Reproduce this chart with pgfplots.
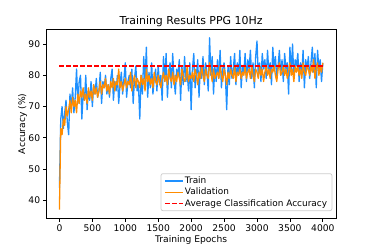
\documentclass[border=0pt]{standalone}
\usepackage{fontspec}
\setmainfont{DejaVu Sans}
\usepackage{pgfplots}
\pgfplotsset{compat=1.18}
\usepackage{pgfplotstable}
\definecolor{mplblue}{RGB}{30,144,255}
\definecolor{mplorange}{RGB}{255,140,0}
\definecolor{mplred}{RGB}{255,0,0}
\pgfplotstableread{
tr va
44 37
66 63
70 61
63 66
68 64
72 70
65 67
61 69
74 72
70 68
76 73
68 70
73 72
82 68
71 74
78 71
80 75
66 73
74 76
72 72
80 74
69 71
75 76
72 73
78 75
70 72
77 77
74 74
79 76
73 73
75 75
81 78
71 74
78 77
76 76
80 79
74 75
77 77
73 74
79 78
82 76
72 79
78 75
75 78
80 77
71 82
77 76
81 78
74 75
79 77
84 79
73 76
78 78
80 77
76 81
82 75
71 78
79 80
83 76
75 79
77 78
66 76
80 80
74 77
86 79
78 75
89 82
73 78
81 80
76 77
84 79
74 76
79 81
82 78
75 77
83 80
77 78
80 76
72 79
86 81
78 78
87 80
73 77
81 82
84 79
76 78
87 81
79 77
74 80
82 78
80 81
85 79
72 77
83 82
77 80
86 78
78 79
81 83
75 78
84 80
69 79
82 81
87 78
76 82
80 80
85 77
73 81
83 79
79 83
86 80
77 78
84 82
81 80
75 79
92 84
80 81
86 78
74 82
83 79
78 80
85 81
79 79
88 83
76 80
82 78
84 82
80 80
69 77
83 81
77 79
86 82
79 80
82 79
87 83
77 78
84 81
80 80
88 82
76 79
83 81
81 80
87 83
78 79
85 81
82 82
88 79
79 83
84 80
76 78
86 82
91 81
80 79
84 83
78 80
87 82
82 78
85 81
79 83
88 80
81 82
84 79
77 82
89 81
82 83
86 80
79 78
83 82
88 84
80 80
85 81
78 83
87 80
82 82
84 79
74 81
89 84
81 80
90 82
79 78
85 83
83 81
87 83
78 80
84 82
80 79
88 84
76 81
85 80
82 83
86 82
79 80
84 83
89 81
81 85
87 79
76 82
88 84
82 80
85 83
78 81
84 84
}\data
\begin{document}
\begin{tikzpicture}
\path[use as bounding box] (0,0) rectangle (460.8pt,306.8pt);
\begin{axis}[
  at={(57pt,37.8pt)}, anchor=south west,
  scale only axis, width=357pt, height=233pt,
  xmin=-200, xmax=4200, ymin=34.25, ymax=94.75,
  xtick={0,500,...,4000}, ytick={40,50,...,90},
  xtick pos=lower, ytick pos=left,
  tick align=outside, major tick length=4pt,
  every tick/.style={black, line width=0.9pt},
  axis line style={line width=0.9pt},
  /pgf/number format/assume math mode=true,
  /pgf/number format/1000 sep={},
  tick label style={font=\fontsize{11.3}{13}\selectfont},
  xlabel={Training Epochs}, ylabel={Accuracy (\%)},
  label style={font=\fontsize{11.3}{13}\selectfont},
  xlabel style={yshift=2pt},
  ylabel style={yshift=-5pt},
  title={Training Results PPG 10Hz},
  title style={font=\fontsize{13.5}{15}\selectfont, yshift=-7pt},
  legend cell align=left,
  legend style={at={(1,0)}, anchor=south east, xshift=-4.5pt, yshift=9pt,
    draw=black!20, rounded corners=2.5pt, line width=0.9pt,
    font=\fontsize{11}{13}\selectfont, row sep=0pt, inner xsep=4pt, inner ysep=2pt},
  legend image code/.code={\draw[mark repeat=2,mark phase=2,#1] plot coordinates {(0pt,0pt) (11pt,0pt) (22pt,0pt)};},
]
\addplot[color=mplblue, line width=1.6pt, line join=round] table[x expr=\coordindex*20, y=tr] {\data};
\addlegendentry{Train}
\addplot[color=mplorange, line width=1.6pt, line join=round] table[x expr=\coordindex*20, y=va] {\data};
\addlegendentry{Validation}
\addplot[color=mplred, line width=1.6pt, dash pattern=on 6pt off 2.6pt] coordinates {(0,83) (4000,83)};
\addlegendentry{Average Classification Accuracy}
\end{axis}
\end{tikzpicture}
\end{document}
